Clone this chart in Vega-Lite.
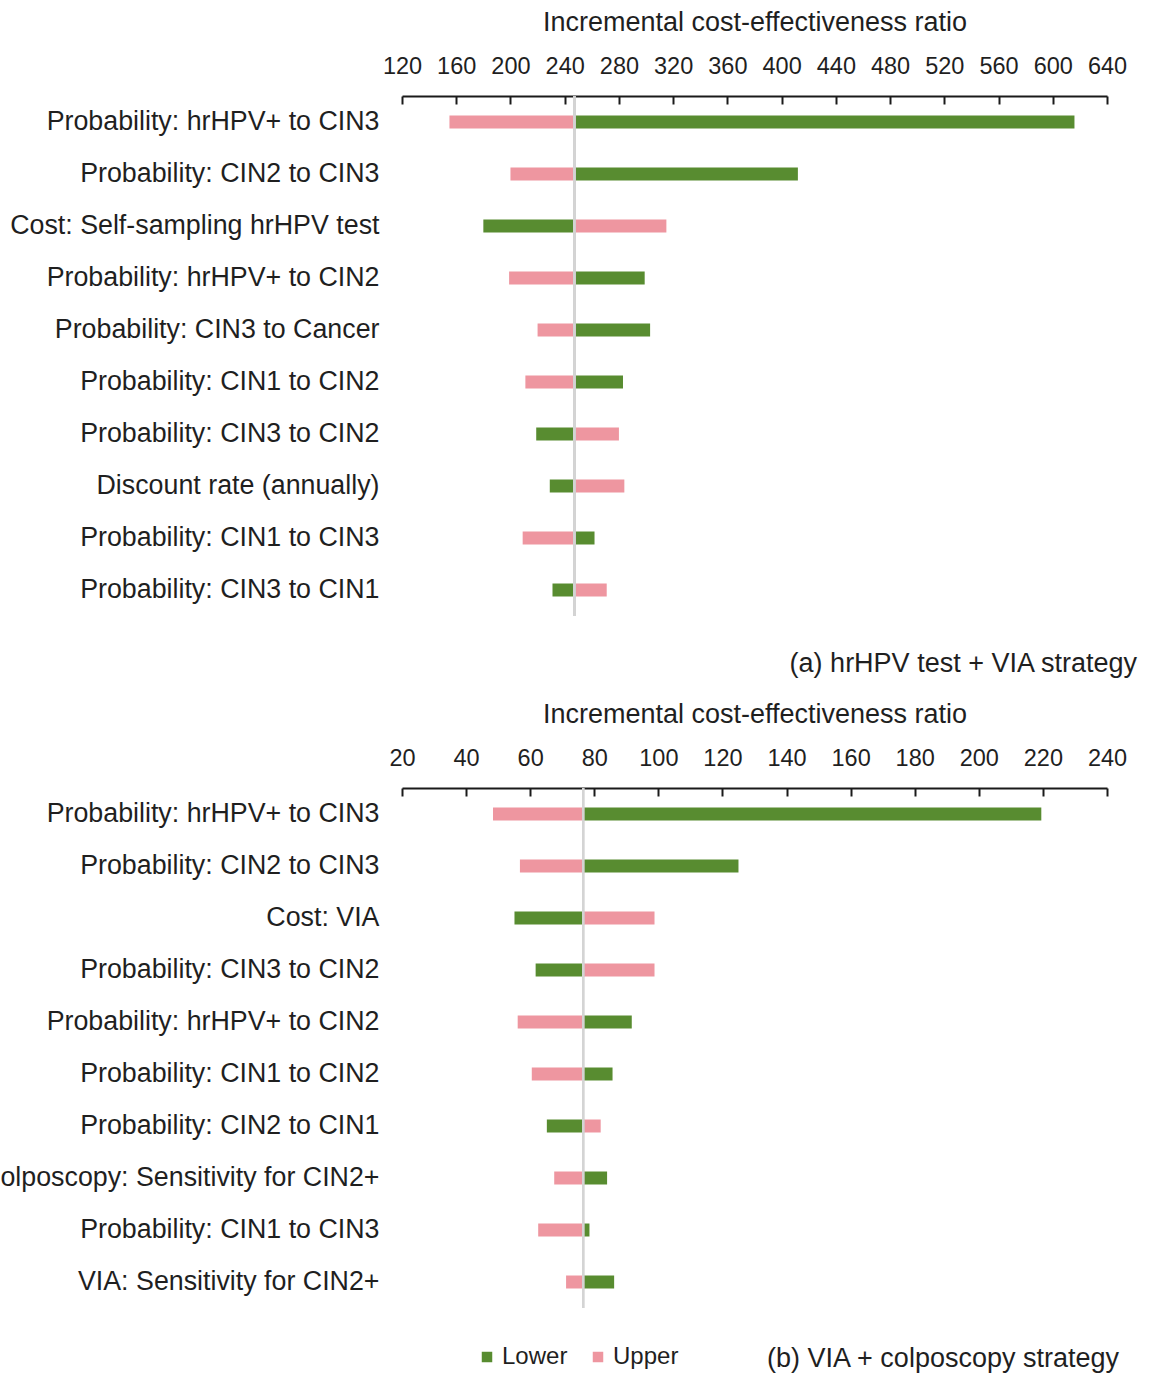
{
  "$schema": "https://vega.github.io/schema/vega-lite/v6.json",
  "background": "white",
  "padding": {"left": -20, "top": 8, "right": 10, "bottom": 8},
  "bounds": "flush",
  "spacing": 172,
  "config": {
    "font": "Liberation Sans",
    "view": {"stroke": null},
    "axisX": {
      "orient": "top",
      "grid": false,
      "domainColor": "#1a1a1a",
      "domainWidth": 2,
      "tickColor": "#1a1a1a",
      "tickWidth": 2,
      "tickSize": -8,
      "labelFontSize": 23.5,
      "labelColor": "#1f1f1f",
      "labelPadding": 26,
      "labelFlush": false,
      "titleFontSize": 27,
      "titleFontWeight": "normal",
      "titleColor": "#1f1f1f",
      "titlePadding": 18
    },
    "axisY": {
      "title": null,
      "grid": false,
      "ticks": false,
      "domain": false,
      "labelFontSize": 26.8,
      "labelColor": "#1f1f1f",
      "labelPadding": 23,
      "labelLimit": 600
    },
    "title": {"fontSize": 27, "fontWeight": "normal", "color": "#1f1f1f"}
  },
  "datasets": {
    "hrhpv_via": [
      {"parameter": "Probability: hrHPV+ to CIN3", "bound": "Lower", "value": 616, "base": 247},
      {"parameter": "Probability: hrHPV+ to CIN3", "bound": "Upper", "value": 155, "base": 247},
      {"parameter": "Probability: CIN2 to CIN3", "bound": "Lower", "value": 412, "base": 247},
      {"parameter": "Probability: CIN2 to CIN3", "bound": "Upper", "value": 200, "base": 247},
      {"parameter": "Cost: Self-sampling hrHPV test", "bound": "Lower", "value": 180, "base": 247},
      {"parameter": "Cost: Self-sampling hrHPV test", "bound": "Upper", "value": 315, "base": 247},
      {"parameter": "Probability: hrHPV+ to CIN2", "bound": "Lower", "value": 299, "base": 247},
      {"parameter": "Probability: hrHPV+ to CIN2", "bound": "Upper", "value": 199, "base": 247},
      {"parameter": "Probability: CIN3 to Cancer", "bound": "Lower", "value": 303, "base": 247},
      {"parameter": "Probability: CIN3 to Cancer", "bound": "Upper", "value": 220, "base": 247},
      {"parameter": "Probability: CIN1 to CIN2", "bound": "Lower", "value": 283, "base": 247},
      {"parameter": "Probability: CIN1 to CIN2", "bound": "Upper", "value": 211, "base": 247},
      {"parameter": "Probability: CIN3 to CIN2", "bound": "Lower", "value": 219, "base": 247},
      {"parameter": "Probability: CIN3 to CIN2", "bound": "Upper", "value": 280, "base": 247},
      {"parameter": "Discount rate (annually)", "bound": "Lower", "value": 229, "base": 247},
      {"parameter": "Discount rate (annually)", "bound": "Upper", "value": 284, "base": 247},
      {"parameter": "Probability: CIN1 to CIN3", "bound": "Lower", "value": 262, "base": 247},
      {"parameter": "Probability: CIN1 to CIN3", "bound": "Upper", "value": 209, "base": 247},
      {"parameter": "Probability: CIN3 to CIN1", "bound": "Lower", "value": 231, "base": 247},
      {"parameter": "Probability: CIN3 to CIN1", "bound": "Upper", "value": 271, "base": 247}
    ],
    "via_colposcopy": [
      {"parameter": "Probability: hrHPV+ to CIN3", "bound": "Lower", "value": 219.5, "base": 76.5},
      {"parameter": "Probability: hrHPV+ to CIN3", "bound": "Upper", "value": 48.4, "base": 76.5},
      {"parameter": "Probability: CIN2 to CIN3", "bound": "Lower", "value": 125, "base": 76.5},
      {"parameter": "Probability: CIN2 to CIN3", "bound": "Upper", "value": 56.8, "base": 76.5},
      {"parameter": "Cost: VIA", "bound": "Lower", "value": 55.1, "base": 76.5},
      {"parameter": "Cost: VIA", "bound": "Upper", "value": 98.8, "base": 76.5},
      {"parameter": "Probability: CIN3 to CIN2", "bound": "Lower", "value": 61.7, "base": 76.5},
      {"parameter": "Probability: CIN3 to CIN2", "bound": "Upper", "value": 98.8, "base": 76.5},
      {"parameter": "Probability: hrHPV+ to CIN2", "bound": "Lower", "value": 91.7, "base": 76.5},
      {"parameter": "Probability: hrHPV+ to CIN2", "bound": "Upper", "value": 56.1, "base": 76.5},
      {"parameter": "Probability: CIN1 to CIN2", "bound": "Lower", "value": 85.7, "base": 76.5},
      {"parameter": "Probability: CIN1 to CIN2", "bound": "Upper", "value": 60.5, "base": 76.5},
      {"parameter": "Probability: CIN2 to CIN1", "bound": "Lower", "value": 65.2, "base": 76.5},
      {"parameter": "Probability: CIN2 to CIN1", "bound": "Upper", "value": 82.0, "base": 76.5},
      {"parameter": "Colposcopy: Sensitivity for CIN2+", "bound": "Lower", "value": 84.0, "base": 76.5},
      {"parameter": "Colposcopy: Sensitivity for CIN2+", "bound": "Upper", "value": 67.5, "base": 76.5},
      {"parameter": "Probability: CIN1 to CIN3", "bound": "Lower", "value": 78.5, "base": 76.5},
      {"parameter": "Probability: CIN1 to CIN3", "bound": "Upper", "value": 62.5, "base": 76.5},
      {"parameter": "VIA: Sensitivity for CIN2+", "bound": "Lower", "value": 86.2, "base": 76.5},
      {"parameter": "VIA: Sensitivity for CIN2+", "bound": "Upper", "value": 71.2, "base": 76.5}
    ]
  },
  "vconcat": [
    {
      "width": 705,
      "height": 520,
      "data": {"name": "hrhpv_via"},
      "title": {"text": "(a) hrHPV test + VIA strategy", "orient": "bottom", "anchor": "end", "frame": "group", "offset": 34, "dx": 30},
      "layer": [
        {
          "mark": {"type": "bar", "height": 13},
          "encoding": {
            "y": {"field": "parameter", "type": "nominal", "sort": null, "scale": {"paddingInner": 0.75}},
            "x": {
              "field": "value", "type": "quantitative",
              "scale": {"domain": [120, 640], "nice": false, "zero": false},
              "axis": {"title": "Incremental cost-effectiveness ratio", "values": [120, 160, 200, 240, 280, 320, 360, 400, 440, 480, 520, 560, 600, 640]}
            },
            "x2": {"field": "base"},
            "color": {
              "field": "bound", "type": "nominal",
              "scale": {"domain": ["Lower", "Upper"], "range": ["#588c30", "#ee96a0"]},
              "legend": {
                "orient": "none", "legendX": 73, "legendY": 1249, "direction": "horizontal",
                "title": null, "symbolType": "square", "symbolSize": 110, "symbolStrokeWidth": 0,
                "labelFontSize": 24, "labelColor": "#1f1f1f", "columnPadding": 18, "labelOffset": 3
              }
            }
          }
        },
        {
          "mark": {"type": "rule", "color": "#d4d4d4", "strokeWidth": 2},
          "encoding": {"x": {"field": "base", "type": "quantitative"}}
        }
      ]
    },
    {
      "width": 705,
      "height": 520,
      "data": {"name": "via_colposcopy"},
      "title": {"text": "(b) VIA + colposcopy strategy", "orient": "bottom", "anchor": "end", "frame": "group", "offset": 37, "dx": 12},
      "layer": [
        {
          "mark": {"type": "bar", "height": 13},
          "encoding": {
            "y": {"field": "parameter", "type": "nominal", "sort": null, "scale": {"paddingInner": 0.75}},
            "x": {
              "field": "value", "type": "quantitative",
              "scale": {"domain": [20, 240], "nice": false, "zero": false},
              "axis": {"title": "Incremental cost-effectiveness ratio", "values": [20, 40, 60, 80, 100, 120, 140, 160, 180, 200, 220, 240]}
            },
            "x2": {"field": "base"},
            "color": {
              "field": "bound", "type": "nominal",
              "scale": {"domain": ["Lower", "Upper"], "range": ["#588c30", "#ee96a0"]}
            }
          }
        },
        {
          "mark": {"type": "rule", "color": "#d4d4d4", "strokeWidth": 2},
          "encoding": {"x": {"field": "base", "type": "quantitative"}}
        }
      ]
    }
  ]
}
